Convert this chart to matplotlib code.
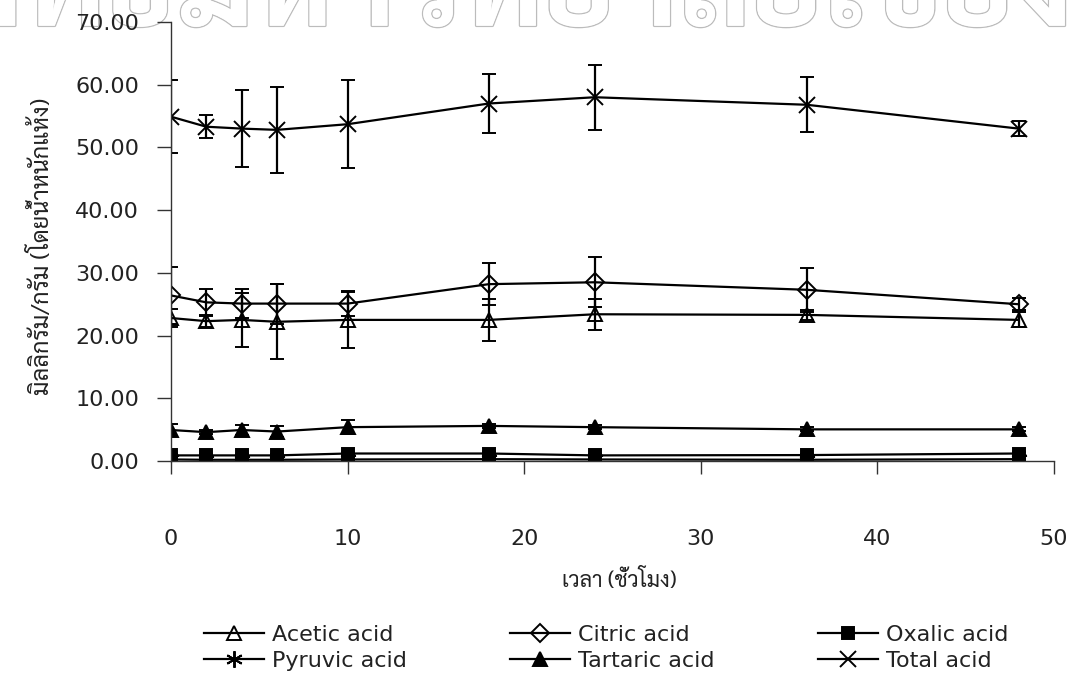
import matplotlib
matplotlib.use('Agg')
import matplotlib.pyplot as plt
import matplotlib.patheffects as pe
from matplotlib.ticker import FormatStrFormatter
#-------------------------------------------------------------------------------
# values
hours = [0, 2, 4, 6, 10, 18, 24, 36, 48]

acetic      = [22.8, 22.3, 22.5, 22.2, 22.5, 22.5, 23.4, 23.3, 22.5]
acetic_err  = [1.5, 1.0, 4.3, 6.0, 4.5, 3.4, 2.5, 0.8, 1.2]
citric      = [26.4, 25.3, 25.1, 25.1, 25.1, 28.2, 28.5, 27.3, 25.0]
citric_err  = [4.6, 2.2, 2.3, 3.2, 2.0, 3.3, 4.0, 3.5, 1.0]
oxalic      = [0.9, 0.9, 0.9, 0.9, 1.2, 1.2, 0.9, 0.95, 1.2]
oxalic_err  = [0.2, 0.2, 0.2, 0.2, 0.2, 0.2, 0.2, 0.2, 0.2]
pyruvic     = [0.25, 0.2, 0.2, 0.2, 0.25, 0.3, 0.25, 0.2, 0.3]
pyruvic_err = [0.1, 0.1, 0.1, 0.1, 0.1, 0.1, 0.1, 0.1, 0.1]
tartaric    = [4.95, 4.6, 4.95, 4.7, 5.4, 5.6, 5.4, 5.05, 5.05]
tartaric_err= [1.0, 0.3, 0.75, 0.9, 1.1, 0.3, 0.3, 0.3, 0.3]
total       = [54.9, 53.3, 53.0, 52.8, 53.7, 57.0, 58.0, 56.8, 53.0]
total_err   = [5.8, 1.85, 6.2, 6.9, 7.0, 4.75, 5.2, 4.4, 1.25]

yticks = [0, 10, 20, 30, 40, 50, 60, 70]
xticks = [0, 10, 20, 30, 40, 50]

xlabel = 'เวลา (ชั่วโมง)'
ylabel = 'มิลลิกรัม/กรัม (โดยน้ำหนักแห้ง)'
watermark = 'ลิขสิทธิ์มหาวิทยาลัยเชียงใหม่'
#-------------------------------------------------------------------------------
thai = ['Sarabun', 'Noto Sans Thai Looped', 'Noto Sans Thai', 'Anuphan', 'DejaVu Sans']
latin = ['DejaVu Sans']
txt_col = '#222222'

fig = plt.figure(figsize=(10.8, 6.76), dpi=100)

# faint outlined watermark at the top edge (cut off, as in the scan)
fig.text(0.5, 0.962, watermark, ha='center', va='baseline', fontsize=88,
         family=thai, color='white', fontweight='bold', zorder=-5,
         path_effects=[pe.withStroke(linewidth=2.0, foreground='#bcbcbc'), pe.Normal()])

ax = fig.add_axes([0.1583, 0.318, 0.8176, 0.6495])
ax.set_facecolor('none')

kw = dict(color='black', lw=1.6, elinewidth=1.6, capsize=4.8, capthick=1.6, mew=1.4)
series = [
    ('Acetic acid',   acetic,   acetic_err,   dict(marker='^', ms=10, mfc='none')),
    ('Citric acid',   citric,   citric_err,   dict(marker='D', ms=9.5, mfc='none')),
    ('Oxalic acid',   oxalic,   oxalic_err,   dict(marker='s', ms=9,  mfc='black')),
    ('Pyruvic acid',  pyruvic,  pyruvic_err,  dict(marker=(6, 2, 0), ms=12)),
    ('Tartaric acid', tartaric, tartaric_err, dict(marker='^', ms=10, mfc='black')),
    ('Total acid',    total,    total_err,    dict(marker='x', ms=12)),
]
handles = {}
for name, vals, err, mk in series:
    c = ax.errorbar(hours, vals, yerr=err, label=name, **kw, **mk)
    handles[name] = c.lines[0]

ax.set_xlim(0, 50)
ax.set_ylim(0, 70)
ax.set_xticks(xticks)
ax.set_yticks(yticks)
ax.yaxis.set_major_formatter(FormatStrFormatter('%.2f'))
for s in ['top', 'right']:
    ax.spines[s].set_visible(False)
for s in ['left', 'bottom']:
    ax.spines[s].set_linewidth(1.0)
    ax.spines[s].set_color('#333333')
ax.tick_params(axis='y', direction='out', length=10, width=1.0, pad=13, color='#333333',
               labelsize=16, labelcolor=txt_col)
ax.tick_params(axis='x', direction='out', length=9, width=1.0, pad=40, color='#333333',
               labelsize=16, labelcolor=txt_col)
for lab in ax.get_xticklabels() + ax.get_yticklabels():
    lab.set_family(latin)

ax.set_xlabel(xlabel, family=thai, fontsize=15.5, color=txt_col, va='center')
ax.xaxis.set_label_coords(0.508, -0.271)
ax.set_ylabel(ylabel, family=thai, fontsize=17, color=txt_col, va='center')
ax.yaxis.set_label_coords(-0.147, 0.49)

order = ['Acetic acid', 'Pyruvic acid', 'Citric acid', 'Tartaric acid', 'Oxalic acid', 'Total acid']
fig.legend([handles[n] for n in order], order, loc='center', bbox_to_anchor=(0.561, 0.0414),
           ncol=3, frameon=False, handlelength=2.7, handletextpad=0.36, columnspacing=4.65,
           labelspacing=0.28, borderpad=0.1, prop={'family': latin, 'size': 16},
           labelcolor=txt_col)

fig.savefig('out.png', dpi=100)
